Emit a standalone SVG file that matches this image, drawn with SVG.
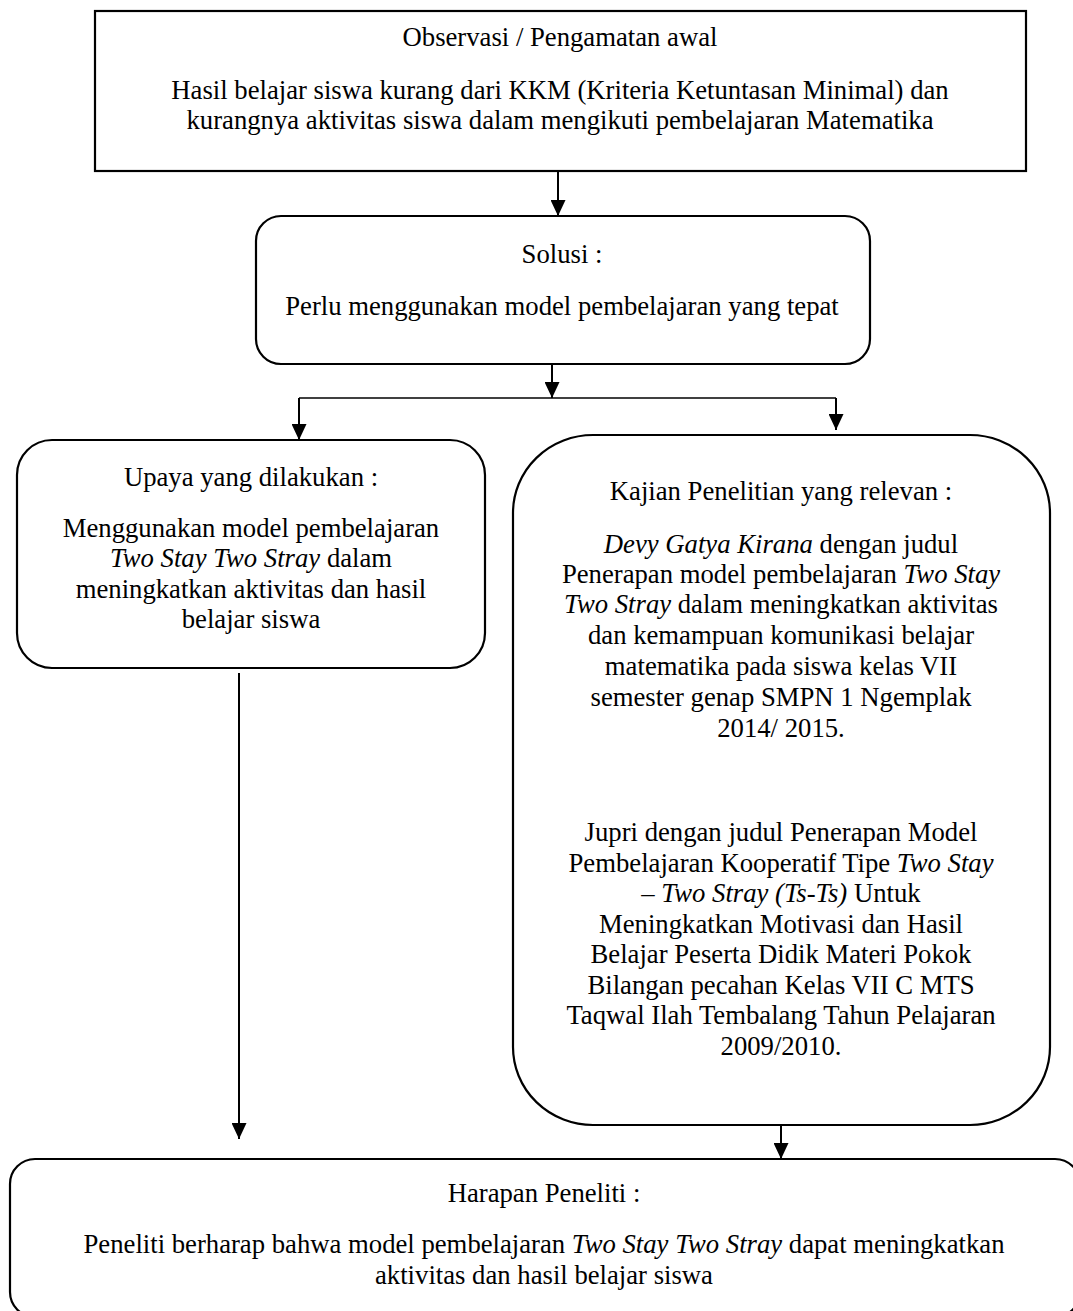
<svg xmlns="http://www.w3.org/2000/svg" width="1073" height="1311" viewBox="0 0 1073 1311">
<style>
  .box { fill: #fff; stroke: #000; stroke-width: 2.2; }
  .t { font-family: "Liberation Serif", "Times New Roman", serif; font-size: 26.7px; fill: #000; text-anchor: middle; }
  .i { font-style: italic; }
  .conn { fill: none; stroke: #000; stroke-width: 2; }
  .thin { fill: none; stroke: #000; stroke-width: 1.3; }
</style>
<defs>
  <marker id="arr" markerUnits="userSpaceOnUse" markerWidth="16" markerHeight="15" refX="16" refY="7.5" orient="auto">
    <path d="M0,0 L16,7.5 L0,15 z" fill="#000"/>
  </marker>
</defs>
<rect width="1073" height="1311" fill="#fff"/>

<g id="connectors">
  <path class="conn" d="M558,172 V216" marker-end="url(#arr)"/>
  <path class="conn" d="M552,364 V398" marker-end="url(#arr)"/>
  <path class="thin" d="M299,398 H836"/>
  <path class="conn" d="M299,398 V440" marker-end="url(#arr)"/>
  <path class="conn" d="M836,398 V430" marker-end="url(#arr)"/>
  <path class="conn" d="M239,673 V1139" marker-end="url(#arr)"/>
  <path class="conn" d="M781,1125 V1159" marker-end="url(#arr)"/>
</g>

<g id="observasi">
  <rect class="box" x="95" y="11" width="931" height="160"/>
  <text class="t" x="560" y="46">Observasi / Pengamatan awal</text>
  <text class="t" x="560" y="99">Hasil belajar siswa kurang dari KKM (Kriteria Ketuntasan Minimal) dan</text>
  <text class="t" x="560" y="129">kurangnya aktivitas siswa dalam mengikuti pembelajaran Matematika</text>
</g>

<g id="solusi">
  <rect class="box" x="256" y="216" width="614" height="148" rx="25" ry="25"/>
  <text class="t" x="562" y="263">Solusi :</text>
  <text class="t" x="562" y="315">Perlu menggunakan model pembelajaran yang tepat</text>
</g>

<g id="upaya">
  <rect class="box" x="17" y="440" width="468" height="228" rx="35" ry="35"/>
  <text class="t" x="251" y="486">Upaya yang dilakukan :</text>
  <text class="t" x="251" y="537">Menggunakan model pembelajaran</text>
  <text class="t" x="251" y="567"><tspan class="i">Two Stay Two Stray</tspan> dalam</text>
  <text class="t" x="251" y="598">meningkatkan aktivitas dan hasil</text>
  <text class="t" x="251" y="628">belajar siswa</text>
</g>

<g id="kajian">
  <rect class="box" x="513" y="435" width="537" height="690" rx="80" ry="78"/>
  <text class="t" x="781" y="500">Kajian Penelitian yang relevan :</text>
  <text class="t" x="781" y="553"><tspan class="i">Devy Gatya Kirana</tspan> dengan judul</text>
  <text class="t" x="781" y="583">Penerapan model pembelajaran <tspan class="i">Two Stay</tspan></text>
  <text class="t" x="781" y="613"><tspan class="i">Two Stray</tspan> dalam meningkatkan aktivitas</text>
  <text class="t" x="781" y="644">dan kemampuan komunikasi belajar</text>
  <text class="t" x="781" y="675">matematika pada siswa kelas VII</text>
  <text class="t" x="781" y="706">semester genap SMPN 1 Ngemplak</text>
  <text class="t" x="781" y="737">2014/ 2015.</text>
  <text class="t" x="781" y="841">Jupri dengan judul Penerapan Model</text>
  <text class="t" x="781" y="872">Pembelajaran Kooperatif Tipe <tspan class="i">Two Stay</tspan></text>
  <text class="t" x="781" y="902">– <tspan class="i">Two Stray (Ts-Ts)</tspan> Untuk</text>
  <text class="t" x="781" y="933">Meningkatkan Motivasi dan Hasil</text>
  <text class="t" x="781" y="963">Belajar Peserta Didik Materi Pokok</text>
  <text class="t" x="781" y="994">Bilangan pecahan Kelas VII C MTS</text>
  <text class="t" x="781" y="1024">Taqwal Ilah Tembalang Tahun Pelajaran</text>
  <text class="t" x="781" y="1055">2009/2010.</text>
</g>

<g id="harapan">
  <rect class="box" x="10" y="1159" width="1070" height="158" rx="25" ry="25"/>
  <text class="t" x="544" y="1202">Harapan Peneliti :</text>
  <text class="t" x="544" y="1253">Peneliti berharap bahwa model pembelajaran <tspan class="i">Two Stay Two Stray</tspan> dapat meningkatkan</text>
  <text class="t" x="544" y="1284">aktivitas dan hasil belajar siswa</text>
</g>
</svg>
